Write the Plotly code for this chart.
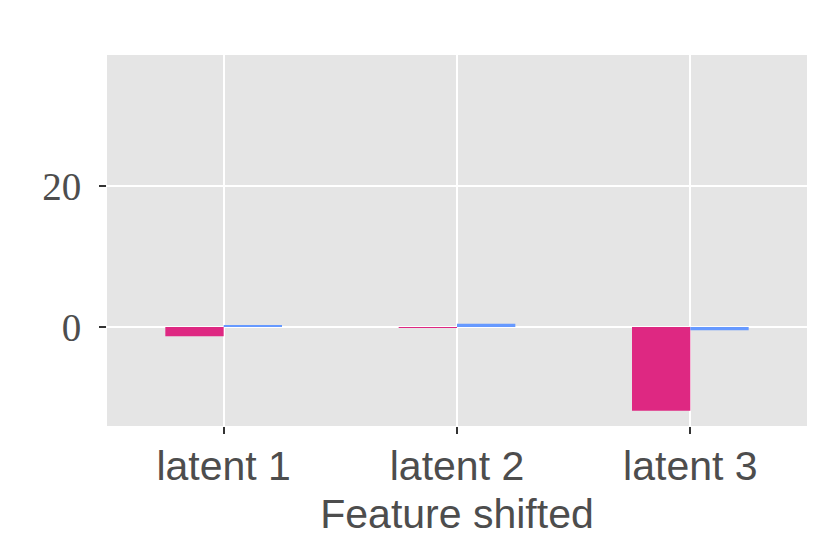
import plotly.graph_objects as go

categories = ["latent 1", "latent 2", "latent 3"]
series_a = [-1.3, -0.1, -11.9]
series_b = [0.15, 0.45, -0.45]

PINK = "#DE2882"
BLUE = "#6699FF"
GREY_TXT = "#4D4D4D"

fig = go.Figure()
fig.add_trace(go.Bar(x=categories, y=series_a, marker=dict(color=PINK, line=dict(width=0)),
                     showlegend=False))
fig.add_trace(go.Bar(x=categories, y=series_b, marker=dict(color=BLUE, line=dict(width=0)),
                     showlegend=False))

# page body has an 8px margin, so margins are shifted to compensate
fig.update_layout(
    width=830, height=559,
    margin=dict(l=99, r=31, t=47, b=141),
    paper_bgcolor="white",
    plot_bgcolor="#E5E5E5",
    barmode="group",
    bargap=0.5,
    bargroupgap=0,
)
fig.update_xaxes(
    automargin=False,
    showgrid=True, gridcolor="white", gridwidth=2.2,
    ticks="outside", ticklen=7, tickwidth=1.5, tickcolor="#333333",
    ticklabelstandoff=-3,
    tickfont=dict(family="Liberation Sans, Arial", size=41, color=GREY_TXT),
    title=dict(text="Feature shifted", standoff=11,
               font=dict(family="Liberation Sans, Arial", size=41, color=GREY_TXT)),
    zeroline=False, showline=False,
)
fig.update_yaxes(
    automargin=False,
    range=[-14.05, 38.6],
    tickvals=[0, 20], ticktext=["0", "20"],
    showgrid=True, gridcolor="white", gridwidth=2.2,
    zeroline=False, showline=False,
    ticks="outside", ticklen=7, tickwidth=1.5, tickcolor="#333333",
    ticklabelstandoff=10,
    tickfont=dict(family="Liberation Serif, Times New Roman", size=39, color=GREY_TXT),
)

fig.write_html("out.html")
